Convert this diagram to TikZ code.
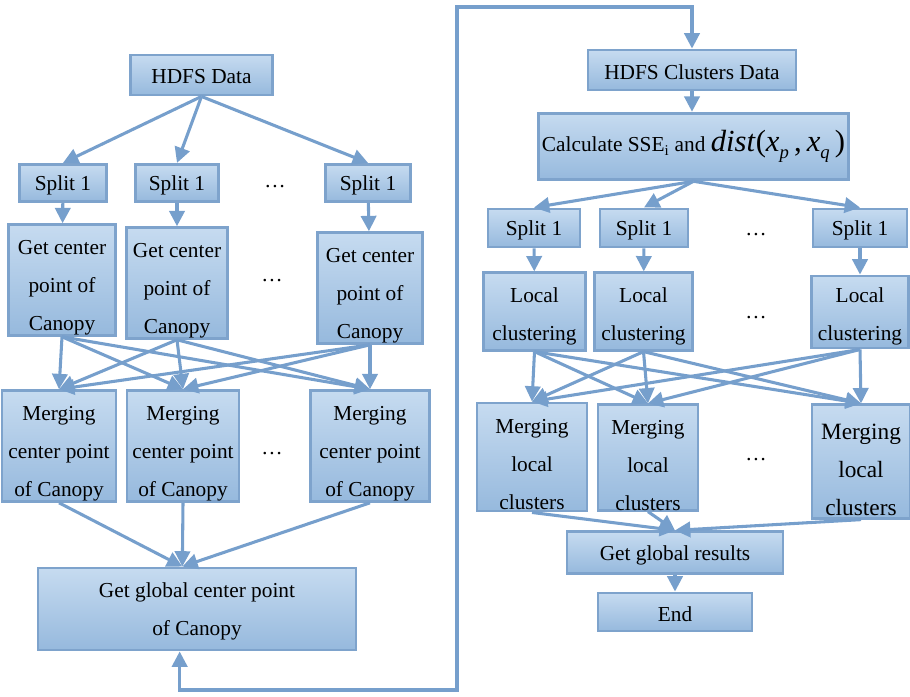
\documentclass[tikz,border=0pt]{standalone}
\usepackage{fontspec}
\setmainfont{Liberation Serif}
\usetikzlibrary{arrows.meta}

\definecolor{boxtop}{HTML}{C6DBF0}
\definecolor{boxbot}{HTML}{96B9DD}
\definecolor{boxline}{HTML}{7EA3CC}
\definecolor{linkcol}{HTML}{769FCC}

\newcommand\lowidx[1]{\raisebox{-5pt}{\fontsize{14}{14}\selectfont\textit{#1}}}

\begin{document}
\begin{tikzpicture}[x=0.75pt,y=-0.75pt,>={Triangle[length=11.5pt,width=11.5pt]},
 box/.style={draw=boxline,line width=2.2pt,top color=boxtop,bottom color=boxbot,align=center,inner sep=0pt},
 lbl/.style={align=center,yshift=#1},
 link/.style={->,draw=linkcol,line width=2.3pt},
 every node/.style={font=\fontsize{16}{28.5}\selectfont}]
\useasboundingbox (0,0) rectangle (910,696);
% left half: Canopy
\node[box,minimum width=107pt,minimum height=30pt,label={[lbl=-1.5pt]center:HDFS Data}] (hdfs) at (201.5,75) {};
\foreach \i/\x/\w in {1/63/65,2/177/62,3/368/64}{\node[box,minimum width=\w pt,minimum height=28pt,label={[lbl=-1.5pt]center:Split 1}] (s\i) at (\x,183) {};}
\foreach \i/\x/\y/\w in {1/62/280/80,2/177/283/76,3/370/288/79}{\node[box,minimum width=\w pt,minimum height=83pt,label={[lbl=-6pt]center:{Get center\\point of\\Canopy}}] (g\i) at (\x,\y) {};}
\foreach \j/\x/\w in {1/59/85.5,2/183/84,3/370/89}{\node[box,minimum width=\w pt,minimum height=83pt,label={[lbl=-6pt]center:{Merging\\center point\\of Canopy}}] (m\j) at (\x,446) {};}
\node[box,minimum width=238.5pt,minimum height=61.5pt,label={[lbl=-2pt]center:{Get global center point\\of Canopy}}] (gg) at (197,609) {};
\node (dl1) at (275,187) {…};
\node (dl2) at (272,281) {…};
\node (dl3) at (272,454) {…};
\coordinate (ggin) at ([xshift=-11pt]gg.north);
\foreach \i in {1,2,3}{\draw[link] (hdfs.south)--(s\i.north); \draw[link] (s\i)--(g\i);}
\foreach \i in {1,2,3}{\foreach \j in {1,2,3}{\draw[link] (g\i.south)--(m\j.north);}}
\foreach \j in {1,2,3}{\draw[link] (m\j.south)--(ggin);}
% right half: clustering
\node[box,minimum width=156pt,minimum height=30pt,label={[lbl=-1.5pt]center:HDFS Clusters Data}] (hcd) at (692,70) {};
\node[box,minimum width=233pt,minimum height=50pt] (calc) at (693.5,146.5) {Calculate SSE\textsubscript{i} and {\fontsize{23}{23}\selectfont\textit{dist}(\textit{x}\lowidx{p}\,,\,\textit{x}\lowidx{q}\,)}};
\foreach \i/\x/\w in {1/534/69,2/644/66,3/860/70.5}{\node[box,minimum width=\w pt,minimum height=28.5pt,label={[lbl=-1.5pt]center:Split 1}] (rs\i) at (\x,228) {};}
\foreach \i/\x/\y/\w/\h in {1/534.5/311.5/76/58,2/643.5/311.5/73/58,3/860/312/73/54}{\node[box,minimum width=\w pt,minimum height=\h pt,label={[lbl=-3.5pt]center:{Local\\clustering}}] (l\i) at (\x,\y) {};}
\foreach \j/\x/\y/\w/\h in {1/532/457/82.5/81,2/648/457.5/75/79}{\node[box,minimum width=\w pt,minimum height=\h pt,label={[lbl=-6pt]center:{Merging\\local\\clusters}}] (ml\j) at (\x,\y) {};}
\node[box,minimum width=73.5pt,minimum height=85pt,label={[lbl=-6pt,font=\fontsize{17.5}{28.5}\selectfont]center:{Merging\\local\\clusters}}] (ml3) at (861,461.5) {};
\node[box,minimum width=162pt,minimum height=31pt,label={[lbl=-2pt]center:Get global results}] (ggr) at (675,552.5) {};
\node[box,minimum width=115.5pt,minimum height=28.5pt,label={[lbl=-1.5pt]center:End}] (end) at (675,612) {};
\node (dr1) at (756,235) {…};
\node (dr2) at (756,318) {…};
\node (dr3) at (756,460) {…};
\draw[link] (hcd.south)--(hcd.south |- calc.north);
\foreach \i in {1,2,3}{\draw[link] (calc.south)--(rs\i.north); \draw[link] (rs\i)--(l\i);}
\foreach \i in {1,2,3}{\foreach \j in {1,2,3}{\draw[link] (l\i.south)--(ml\j.north);}}
\foreach \j in {1,2,3}{\draw[link] (ml\j.south)--(ggr.north);}
\draw[link] (ggr)--(end);
% feedback loop
\coordinate (turnlo) at (457,690);
\coordinate (turnhi) at (457,7);
\draw[link,<->] ([xshift=-13pt]gg.south) |- (turnlo) -- (turnhi) -| (hcd.north);
\end{tikzpicture}
\end{document}
